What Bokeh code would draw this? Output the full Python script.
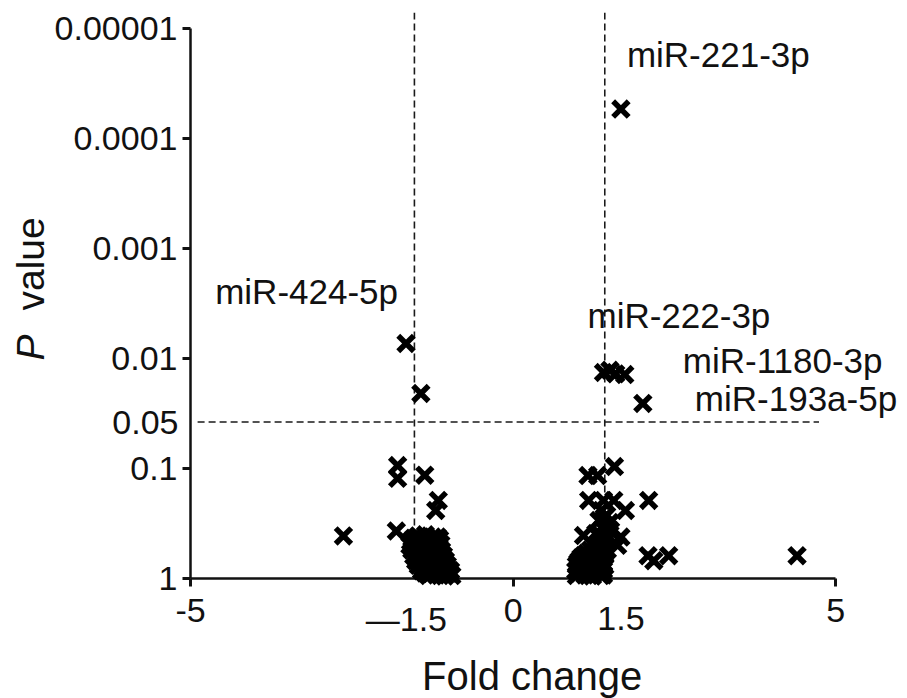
import numpy as np
from bokeh.plotting import figure
from bokeh.models import Range1d, FixedTicker, Span, ColumnDataSource
from bokeh.core.properties import value
from bokeh.embed import file_html
from bokeh.resources import INLINE

# ---------------- data ----------------
fold_change = [
    # left, significant
    -1.66, -1.43,
    # left, scattered
    -2.63, -1.81, -1.79, -1.79, -1.37, -1.16, -1.20,
    # left cluster
    -1.47, -1.36, -1.25,
    -1.54, -1.44, -1.34, -1.25, -1.17,
    -1.59, -1.50, -1.40, -1.31, -1.22, -1.14,
    -1.55, -1.46, -1.37, -1.28, -1.18,
    -1.60, -1.51, -1.42, -1.33, -1.23, -1.12,
    -1.52, -1.44, -1.34, -1.25, -1.15,
    -1.57, -1.48, -1.39, -1.29, -1.20, -1.11,
    -1.50, -1.41, -1.32, -1.23, -1.13,
    -1.54, -1.45, -1.36, -1.26, -1.17, -1.08,
    -1.47, -1.38, -1.29, -1.19, -1.10,
    -1.51, -1.42, -1.33, -1.23, -1.14, -1.05,
    -1.44, -1.35, -1.26, -1.16, -1.07,
    -1.47, -1.37, -1.28, -1.19, -1.09, -1.02,
    -1.40, -1.31, -1.21, -1.12, -1.03,
    -1.42, -1.33, -1.23, -1.14, -1.05, -0.97,
    -1.37, -1.27, -1.17, -1.08, -1.00,
    -1.31, -1.19, -1.06, -0.95,
    # right, significant
    1.67, 1.40, 1.50, 1.59, 1.73, 2.01,
    # right, scattered
    1.57, 1.16, 1.31, 1.17, 1.40, 1.56, 1.74, 2.10, 1.09, 1.67, 1.62,
    1.37, 1.45, 1.33, 1.42, 1.51, 1.36, 1.45, 1.31,
    1.41, 1.39, 1.42, 1.38, 1.35, 1.46, 1.28, 1.50,
    # right cluster
    1.20, 1.31, 1.42,
    1.14, 1.25, 1.37,
    1.09, 1.20, 1.31, 1.42,
    1.05, 1.15, 1.26, 1.37,
    1.02, 1.12, 1.23, 1.34,
    1.00, 1.10, 1.21, 1.31, 1.40,
    0.98, 1.09, 1.20, 1.31, 1.42,
    1.03, 1.14, 1.25, 1.36,
    0.97, 1.08, 1.19, 1.29, 1.40,
    1.02, 1.13, 1.24, 1.34,
    0.98, 1.11, 1.23, 1.36, 1.40,
    # far right
    2.09, 2.18, 2.41, 4.40,
]
p_value = [
    0.0073, 0.0208,
    0.41, 0.37, 0.094, 0.123, 0.115, 0.195, 0.241,
    0.41, 0.40, 0.42,
    0.43, 0.43, 0.44, 0.43, 0.42,
    0.46, 0.45, 0.44, 0.46, 0.45, 0.44,
    0.475, 0.48, 0.47, 0.475, 0.48,
    0.50, 0.51, 0.49, 0.50, 0.51, 0.49,
    0.525, 0.52, 0.53, 0.525, 0.52,
    0.55, 0.56, 0.55, 0.57, 0.55, 0.56,
    0.59, 0.58, 0.59, 0.60, 0.59,
    0.62, 0.61, 0.63, 0.62, 0.61, 0.62,
    0.65, 0.66, 0.65, 0.64, 0.65,
    0.69, 0.68, 0.70, 0.69, 0.68, 0.69,
    0.72, 0.73, 0.72, 0.71, 0.72,
    0.76, 0.77, 0.75, 0.76, 0.77, 0.76,
    0.80, 0.81, 0.80, 0.79, 0.80,
    0.85, 0.84, 0.86, 0.85, 0.84, 0.85,
    0.89, 0.90, 0.89, 0.88, 0.89,
    0.94, 0.93, 0.95, 0.94,
    0.000054, 0.0134, 0.0128, 0.0138, 0.0140, 0.0256,
    0.096, 0.116, 0.116, 0.195, 0.195, 0.195, 0.241, 0.195, 0.407, 0.42, 0.50,
    0.241, 0.267, 0.297, 0.33, 0.366, 0.407, 0.452, 0.501,
    0.28, 0.35, 0.43, 0.48, 0.52, 0.55, 0.39, 0.31,
    0.55, 0.56, 0.55,
    0.59, 0.58, 0.59,
    0.62, 0.61, 0.63, 0.62,
    0.65, 0.66, 0.65, 0.64,
    0.69, 0.68, 0.70, 0.69,
    0.72, 0.73, 0.72, 0.71, 0.72,
    0.76, 0.77, 0.75, 0.76, 0.77,
    0.80, 0.81, 0.80, 0.79,
    0.85, 0.84, 0.86, 0.85, 0.84,
    0.89, 0.90, 0.89, 0.88,
    0.94, 0.93, 0.95, 0.94, 0.93,
    0.62, 0.69, 0.62, 0.62,
]

label_names = ["miR-221-3p", "miR-424-5p", "miR-222-3p", "miR-1180-3p", "miR-193a-5p"]
label_fc = [1.67, -1.66, 1.40, 1.73, 2.01]
label_p = [0.000054, 0.0073, 0.0134, 0.0140, 0.0256]

x_ticks = [-5, 0, 5]
x_tick_labels = ["-5", "0", "5"]
fc_cutoff_labels = ["\u20141.5", "1.5"]
fc_cutoff_label_at = [-1.5, 1.5]
fc_cutoff_lines = [-1.53, 1.42]          # where the dashed lines are drawn
y_tick_p = [1, 0.1, 0.01, 0.001, 0.0001, 0.00001]
y_tick_labels = ["1", "0.1", "0.01", "0.001", "0.0001", "0.00001"]
p_cutoff_label = "0.05"
p_cutoff_drawn = 0.0378                  # drawn position of the 0.05 line
p_line_fc_span = [-4.89, 4.74]
x_title = "Fold change"
y_title = ["P", "value"]

# ---------------- styling ----------------
FONT = "Liberation Sans"
INK = "#111111"
label_dx = [6, -8, -16, 58, 52]          # pixel offsets of point labels
label_dy = [-55, -52, -57, -14, -5]      # (positive = down)
label_align = ["left", "right", "left", "left", "left"]


def nlp(v):
    return -np.log10(np.asarray(v, dtype=float))


p = figure(
    output_backend="svg", toolbar_location=None,
    width=907, height=698,
    frame_width=684, frame_height=566,
    min_border_left=190, min_border_right=33,
    min_border_top=12, min_border_bottom=120,
    x_range=Range1d(-5, 5.6), y_range=Range1d(0, 5.1455),
    background_fill_color="white", border_fill_color="white",
    outline_line_color=None,
)
p.grid.visible = False

for ax in (p.xaxis[0], p.yaxis[0]):
    ax.axis_line_color = INK
    ax.axis_line_width = 2.5
    ax.major_tick_line_color = INK
    ax.major_tick_line_width = 3
    ax.major_tick_out = 8
    ax.major_tick_in = 0
    ax.minor_tick_line_color = None
    ax.major_label_text_font = FONT
    ax.major_label_text_font_size = "34px"
    ax.major_label_text_color = INK

p.xaxis.ticker = FixedTicker(ticks=x_ticks)
p.xaxis.major_label_overrides = {t: s for t, s in zip(x_ticks, x_tick_labels)}
p.xaxis.bounds = (x_ticks[0], x_ticks[-1])
p.xaxis.major_label_standoff = 12

y_ticks_pos = [float(v) for v in nlp(y_tick_p)]
p.yaxis.ticker = FixedTicker(ticks=y_ticks_pos)
p.yaxis.major_label_overrides = {t: s for t, s in zip(y_ticks_pos, y_tick_labels)}
p.yaxis.bounds = (min(y_ticks_pos), max(y_ticks_pos))
p.yaxis.major_label_standoff = 5

# dashed cut-off lines
for loc in fc_cutoff_lines:
    p.add_layout(Span(location=loc, dimension="height", line_color="#1a1a1a",
                      line_width=1.6, line_dash="7 4"))
hy = float(nlp([p_cutoff_drawn])[0])
p.line(p_line_fc_span, [hy, hy], line_color="#1a1a1a", line_width=1.6, line_dash="7 4")

# points
src = ColumnDataSource(dict(x=fold_change, y=nlp(p_value)))
p.scatter("x", "y", source=src, marker="x", size=22, line_width=5.5,
          line_color="black", level="overlay")

# point labels
lab = ColumnDataSource(dict(x=label_fc, y=nlp(label_p), text=label_names,
                            dx=label_dx, dy=label_dy, align=label_align))
p.text("x", "y", text="text", source=lab, x_offset="dx", y_offset="dy",
       text_align="align", text_baseline="alphabetic",
       text_font=value(FONT), text_font_size="35px", text_color=INK, level="overlay")


def outside_text(x, y, text, dx, dy, align, baseline, size, angle=0.0, style="normal"):
    p.text(x=[x], y=[y], text=[text], x_offset=dx, y_offset=dy, angle=angle,
           text_align=align, text_baseline=baseline, text_font=value(FONT),
           text_font_size=size, text_font_style=style, text_color=INK, level="overlay")


# extra tick labels (±1.5 and 0.05)
for t, s, dx in zip(fc_cutoff_label_at, fc_cutoff_labels, [-10, 11]):
    outside_text(t, 0, s, dx, 40, "center", "alphabetic", "34px")
outside_text(x_ticks[0], hy, p_cutoff_label, -12, 0, "right", "middle", "34px")

# axis titles
outside_text(0, 0, x_title, 19, 97, "center", "alphabetic", "40px")
outside_text(x_ticks[0], 0, y_title[0], -160, -218, "left", "alphabetic", "39px",
             angle=np.pi / 2, style="italic")
outside_text(x_ticks[0], 0, y_title[1], -160, -268, "left", "alphabetic", "39px",
             angle=np.pi / 2)

open("out.html", "w").write(file_html(p, INLINE))
